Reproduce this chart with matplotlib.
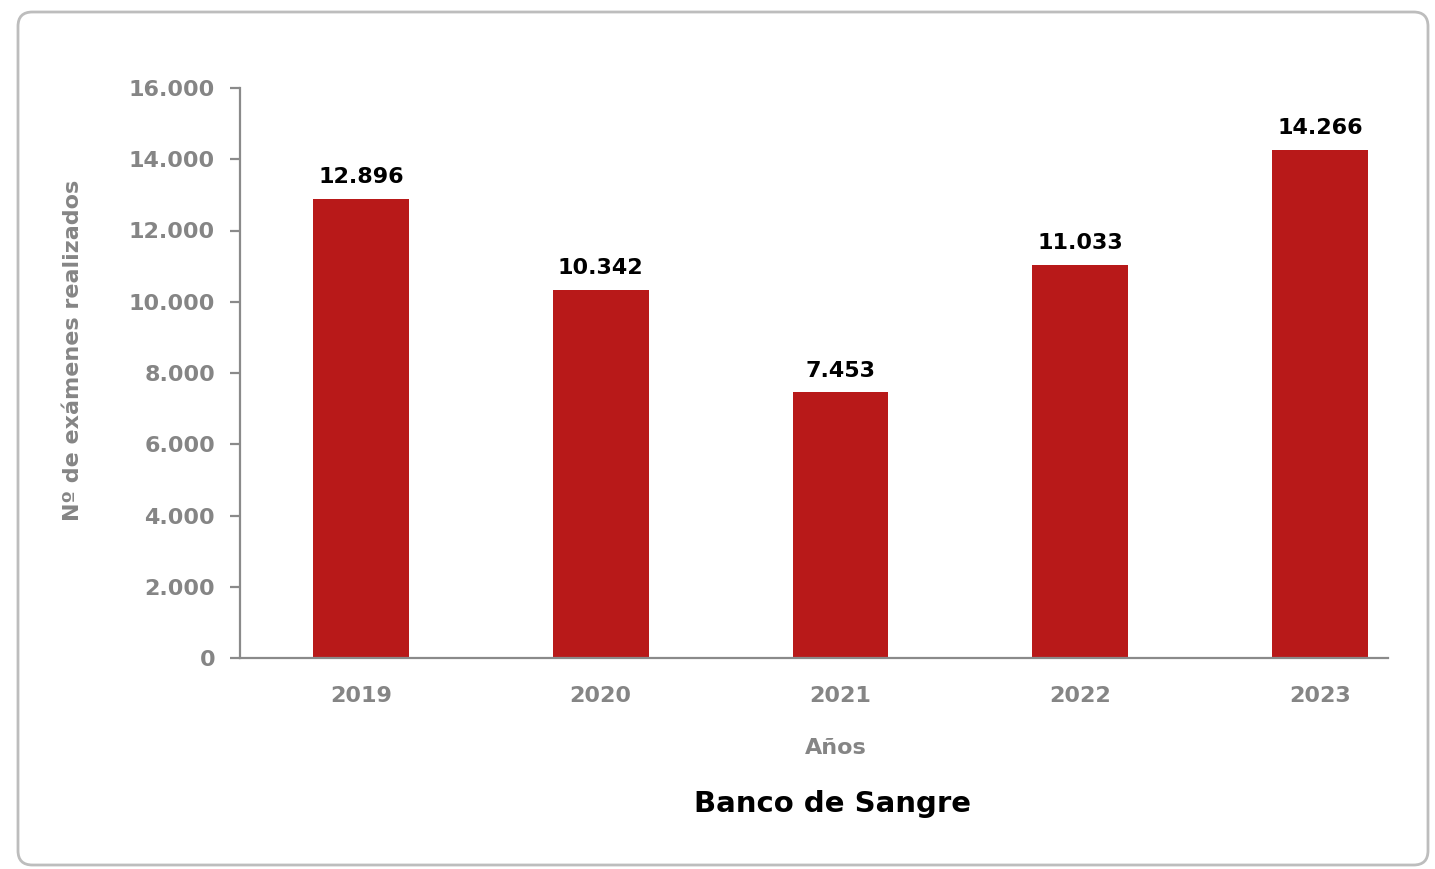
import matplotlib

matplotlib.use("Agg")
import matplotlib.pyplot as plt
from matplotlib.patches import FancyBboxPatch
from matplotlib.ticker import FuncFormatter

years = ["2019", "2020", "2021", "2022", "2023"]
examenes = [12896, 10342, 7453, 11033, 14266]
y_ticks = [0, 2000, 4000, 6000, 8000, 10000, 12000, 14000, 16000]

BAR_RED = "#B81919"
GREY = "#858585"
AXIS_GREY = "#8a8a8a"

plt.rcParams["font.family"] = ["DejaVu Sans"]

W, H = 1435, 869
fig = plt.figure(figsize=(W / 100, H / 100), dpi=100)

# rounded outer frame, drawn behind the axes
frame = FancyBboxPatch(
    (18 / W, 4 / H), (1428 - 18) / W, (857 - 4) / H,
    boxstyle="round,pad=0,rounding_size=0.01",
    mutation_aspect=W / H,
    transform=fig.transFigure, facecolor="none", edgecolor="#bdbdbd",
    linewidth=2, zorder=-1,
)
fig.patches.append(frame)

ax = fig.add_axes([240 / W, (H - 658) / H, (1388 - 240) / W, (658 - 88) / H])
ax.patch.set_alpha(0)

x = list(range(len(years)))
ax.bar(x, examenes, width=0.4, color=BAR_RED, zorder=2)

fmt = lambda v: f"{v:,.0f}".replace(",", ".")
for xi, v in zip(x, examenes):
    ax.text(xi, v + 330, fmt(v), ha="center", va="bottom",
            fontsize=16, fontweight="bold", color="black")

ax.set_xlim(-0.504, 4.283)
ax.set_ylim(0, 16000)
ax.set_yticks(y_ticks)
ax.yaxis.set_major_formatter(FuncFormatter(lambda v, p: fmt(v)))
ax.set_xticks(x)
ax.set_xticklabels(years)

for side in ("top", "right"):
    ax.spines[side].set_visible(False)
for side in ("left", "bottom"):
    ax.spines[side].set_color(AXIS_GREY)
    ax.spines[side].set_linewidth(1.6)

ax.tick_params(axis="y", length=7, width=1.6, color=AXIS_GREY, pad=11,
               labelsize=16, labelcolor=GREY)
ax.tick_params(axis="x", length=0, pad=20, labelsize=16, labelcolor=GREY)
for lab in ax.get_xticklabels() + ax.get_yticklabels():
    lab.set_fontweight("bold")

ax.set_ylabel("Nº de exámenes realizados", fontsize=16, fontweight="bold",
              color=GREY)
ax.yaxis.set_label_coords(-0.137, 0.539)
ax.set_xlabel("Años", fontsize=16, fontweight="bold", color=GREY)
ax.xaxis.set_label_coords(0.519, -0.141)

fig.text(833 / W, (H - 804) / H, "Banco de Sangre", ha="center", va="center",
         fontsize=21, fontweight="bold", color="black")

fig.savefig("out.png", dpi=100)
